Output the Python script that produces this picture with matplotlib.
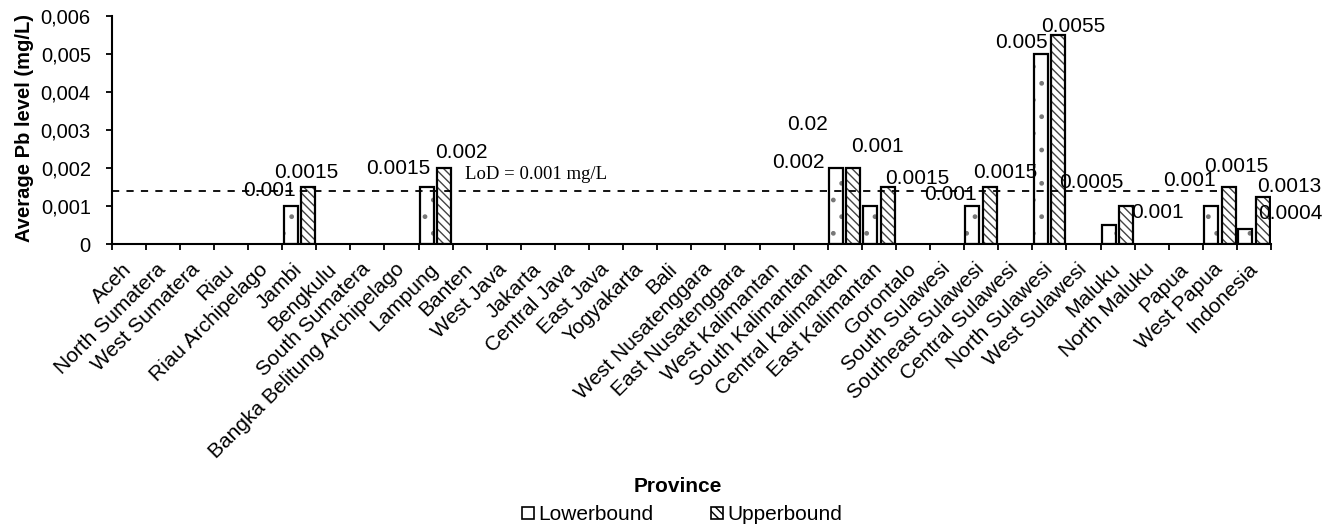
import numpy as np
import matplotlib
matplotlib.use('Agg')
import matplotlib.pyplot as plt
from matplotlib.patches import Patch

plt.rcParams['font.family'] = ['Liberation Sans', 'DejaVu Sans']
plt.rcParams['hatch.linewidth'] = 1.0

provinces = ['Aceh', 'North Sumatera', 'West Sumatera', 'Riau', 'Riau Archipelago',
             'Jambi', 'Bengkulu', 'South Sumatera', 'Bangka Belitung Archipelago',
             'Lampung', 'Banten', 'West Java', 'Jakarta', 'Central Java', 'East Java',
             'Yogyakarta', 'Bali', 'West Nusatenggara', 'East Nusatenggara',
             'West Kalimantan', 'South Kalimantan', 'Central Kalimantan',
             'East Kalimantan', 'Gorontalo', 'South Sulawesi', 'Southeast Sulawesi',
             'Central Sulawesi', 'North Sulawesi', 'West Sulawesi', 'Maluku',
             'North Maluku', 'Papua', 'West Papua', 'Indonesia']

# mg/L, 0 = not detected / no bar
lowerbound = [0, 0, 0, 0, 0, 0.001, 0, 0, 0, 0.0015, 0, 0, 0, 0, 0, 0, 0, 0, 0,
              0, 0, 0.002, 0.001, 0, 0, 0.001, 0, 0.005, 0, 0.0005, 0, 0, 0.001, 0.0004]
upperbound = [0, 0, 0, 0, 0, 0.0015, 0, 0, 0, 0.002, 0, 0, 0, 0, 0, 0, 0, 0, 0,
              0, 0, 0.002, 0.0015, 0, 0, 0.0015, 0, 0.0055, 0, 0.001, 0, 0, 0.0015, 0.00125]

lod_level = 0.0014
yticks = [0, 0.001, 0.002, 0.003, 0.004, 0.005, 0.006]

# data labels as printed in the source chart: (province, series, text)
labels = [('Jambi', 'lo', '0.001'), ('Jambi', 'up', '0.0015'),
          ('Lampung', 'lo', '0.0015'), ('Lampung', 'up', '0.002'),
          ('Central Kalimantan', 'lo', '0.002'), ('Central Kalimantan', 'up', '0.02'),
          ('East Kalimantan', 'lo', '0.001'), ('East Kalimantan', 'up', '0.0015'),
          ('Southeast Sulawesi', 'lo', '0.001'), ('Southeast Sulawesi', 'up', '0.0015'),
          ('North Sulawesi', 'lo', '0.005'), ('North Sulawesi', 'up', '0.0055'),
          ('Maluku', 'lo', '0.0005'), ('Maluku', 'up', '0.001'),
          ('West Papua', 'lo', '0.001'), ('West Papua', 'up', '0.0015'),
          ('Indonesia', 'up', '0.0013'), ('Indonesia', 'lo', '0.0004')]
# label offsets from bar top (pixels, x right / y up)
label_offsets = [(-21, 15), (-2, 15), (-29, 19), (17, 16), (-38, 6), (-46, 43),
                 (7, 60), (30, 9), (-22, 11), (15, 15), (-19, 12), (15, 9),
                 (-18, 42), (31, -7), (-22, 25), (8, 20), (27, 10), (45, 15)]

fig = plt.figure(figsize=(13.39, 5.29), dpi=100)
ax = fig.add_axes([111.7 / 1339, 1 - 244 / 529, (1271 - 111.7) / 1339, 228 / 529])

x = np.arange(len(provinces))
lo = np.array(lowerbound)
up = np.array(upperbound)
w = 0.41
off = 0.255
mlo = lo > 0
mup = up > 0

# lowerbound: white with sparse grey dots
ax.bar(x[mlo] - off, lo[mlo], w, color='white', edgecolor='#777777', hatch='.', lw=0, zorder=2)
ax.bar(x[mlo] - off, lo[mlo], w, fill=False, edgecolor='black', lw=1.6, zorder=3)
# upperbound: diagonal hatch
ax.bar(x[mup] + off, up[mup], w, color='white', edgecolor='#444444', hatch='\\\\\\\\', lw=0, zorder=2)
ax.bar(x[mup] + off, up[mup], w, fill=False, edgecolor='black', lw=1.6, zorder=3)

# LoD line
ax.plot([-0.5, 32.0], [lod_level, lod_level], color='black', lw=1.3,
        linestyle=(0, (4, 4)), zorder=4)
ax.text(9.86, 0.00182, 'LoD = 0.001 mg/L', family='Liberation Serif', fontsize=13.5,
        va='center', ha='left')

for (prov, ser, txt), (dx, dy) in zip(labels, label_offsets):
    i = provinces.index(prov)
    if ser == 'lo':
        xx, yy = i - off, lowerbound[i]
    else:
        xx, yy = i + off, upperbound[i]
    ax.annotate(txt, xy=(xx, yy), xytext=(dx * 0.72, dy * 0.72), textcoords='offset points',
                ha='center', va='center', fontsize=15, zorder=5)

ax.set_xlim(-0.5, len(provinces) - 0.5)
ax.set_ylim(0, 0.006)
ax.set_yticks(yticks)
ax.set_yticklabels(['0' if v == 0 else f'{v:.3f}'.replace('.', ',') for v in yticks])
ax.set_xticks(x)
ax.set_xticklabels(provinces, rotation=45, ha='right', va='center', rotation_mode='anchor')
ax.set_xticks(np.arange(-0.5, len(provinces), 1), minor=True)
ax.tick_params(axis='x', which='major', length=0, pad=16, labelsize=15)
ax.tick_params(axis='x', which='minor', length=4.5, width=1.3, direction='out')
ax.tick_params(axis='y', length=4, width=1.3, pad=11, labelsize=14.5)

for s in ['top', 'right']:
    ax.spines[s].set_visible(False)
for s in ['left', 'bottom']:
    ax.spines[s].set_linewidth(1.5)

fig.text(25 / 1339, 1 - 128 / 529, 'Average Pb level (mg/L)', rotation=90, ha='center',
         va='center', fontsize=14.5, fontweight='bold')
fig.text(678 / 1339, 1 - 486 / 529, 'Province', ha='center', va='center',
         fontsize=15, fontweight='bold')

handles = [Patch(facecolor='white', edgecolor='black', lw=1.2, label='Lowerbound'),
           Patch(facecolor='white', edgecolor='black', lw=1.2, hatch='\\\\\\\\', label='Upperbound')]
fig.legend(handles=handles, loc='center', bbox_to_anchor=(682 / 1339, 1 - 515 / 529), ncol=2,
           frameon=False, fontsize=15, handlelength=0.55, handleheight=0.55,
           handletextpad=0.2, columnspacing=2.8)

fig.savefig('out.png', dpi=100)
